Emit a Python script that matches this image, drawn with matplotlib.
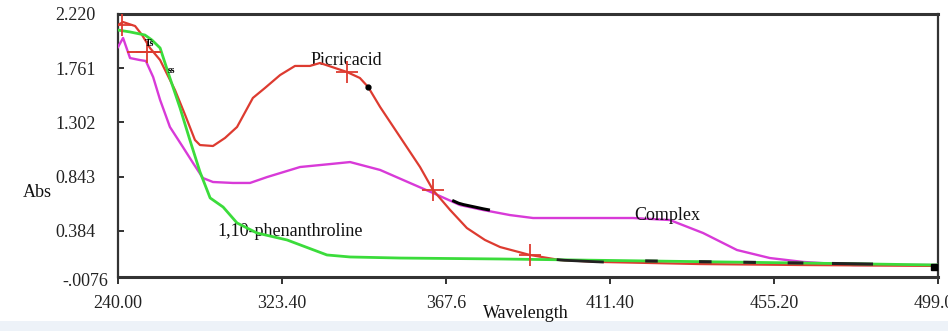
import matplotlib
matplotlib.use("Agg")
import matplotlib.pyplot as plt
import numpy as np
from matplotlib.patches import Rectangle
from matplotlib.transforms import ScaledTranslation

# ---- data (wavelength, absorbance) ----
picric_wl = [240.0, 241.6, 245.4, 247.6, 250.1, 253.3, 258.0, 261.2, 264.3, 265.9, 270.0,
             273.8, 277.6, 282.6, 286.4, 291.2, 295.9, 300.6, 303.8, 308.5, 312.3, 316.4,
             319.0, 322.8, 329.1, 335.4, 339.5, 344.9, 350.2, 355.9, 360.7, 370.1, 379.6,
             392.2, 423.8, 455.4, 499.0]
picric_abs = [2.127, 2.152, 2.118, 2.042, 1.932, 1.830, 1.576, 1.365, 1.153, 1.110, 1.102,
              1.170, 1.263, 1.509, 1.593, 1.703, 1.780, 1.780, 1.805, 1.763, 1.729, 1.678,
              1.602, 1.432, 1.178, 0.924, 0.729, 0.560, 0.407, 0.306, 0.246, 0.179, 0.136,
              0.120, 0.102, 0.094, 0.086]

phen_wl = [240.0, 243.8, 248.5, 250.7, 253.3, 256.4, 259.6, 262.7, 265.9, 269.1, 273.2,
           277.6, 283.9, 293.4, 306.0, 313.3, 329.1, 360.7, 408.0, 455.4, 499.0]
phen_abs = [2.084, 2.068, 2.042, 2.000, 1.932, 1.678, 1.424, 1.153, 0.882, 0.662, 0.585,
            0.450, 0.365, 0.306, 0.179, 0.162, 0.153, 0.145, 0.128, 0.111, 0.094]

complex_wl = [240.0, 241.6, 243.8, 246.9, 248.8, 251.1, 253.3, 256.4, 260.5, 263.7, 266.8,
              270.0, 276.3, 281.7, 287.1, 297.5, 307.0, 313.3, 322.8, 332.2, 339.5, 348.0,
              355.3, 363.8, 371.1, 385.9, 402.7, 414.3, 424.8, 435.5, 445.9, 456.4, 472.2,
              499.0]
complex_abs = [1.940, 2.017, 1.847, 1.830, 1.822, 1.686, 1.492, 1.263, 1.093, 0.958, 0.831,
               0.797, 0.789, 0.789, 0.839, 0.924, 0.949, 0.966, 0.899, 0.789, 0.704, 0.602,
               0.560, 0.517, 0.492, 0.492, 0.492, 0.475, 0.365, 0.221, 0.153, 0.120, 0.094,
               0.094]

# cursor (+) markers on the picric acid trace
cursor_wl = [241.4, 249.3, 312.3, 339.5, 370.1]
cursor_abs = [2.127, 1.895, 1.729, 0.729, 0.179]

xtick_labels = ["240.00", "323.40", "367.6", "411.40", "455.20", "499.00"]
ytick_values = [-0.0076, 0.384, 0.843, 1.302, 1.761, 2.220]
ytick_labels = ["-.0076", "0.384", "0.843", "1.302", "1.761", "2.220"]

RED = "#dd3b30"
GREEN = "#3bdc3b"
MAGENTA = "#d83ad8"
FONT = ["Liberation Serif", "DejaVu Serif"]
FS = 13

plt.rcParams["font.family"] = FONT

fig = plt.figure(figsize=(9.48, 3.31), dpi=100)
fig.patch.set_facecolor("white")
fig.add_artist(Rectangle((0, 0), 1, 10 / 331, transform=fig.transFigure,
                         facecolor="#edf2f8", edgecolor="none", zorder=0))

ax = fig.add_axes([118 / 948, (331 - 277) / 331, (938 - 118) / 948, (277 - 14) / 331])
ax.set_xlim(240, 499)
ax.set_ylim(-0.0076, 2.220)

ax.plot(complex_wl, complex_abs, color=MAGENTA, lw=1.7, zorder=3)
ax.plot(picric_wl, picric_abs, color=RED, lw=1.6, zorder=4)
ax.plot(phen_wl, phen_abs, color=GREEN, lw=2.0, zorder=5)

# black overlay fragments along traces
cw = np.array(complex_wl); ca = np.array(complex_abs)
xs = np.linspace(346, 357, 8)
ax.plot(xs, np.interp(xs, cw, ca) + 0.01, color="black", lw=2.2, zorder=6)
pw = np.array(picric_wl); pa = np.array(picric_abs)
xs = np.linspace(379, 393, 8)
ax.plot(xs, np.interp(xs, pw, pa), color="#222222", lw=2.0, zorder=6)
ax.plot([319.0], [1.602], marker="o", color="black", markersize=3.5, zorder=6)
gw = np.array(phen_wl); ga = np.array(phen_abs)
for lo, hi in [(407, 410), (424, 427), (438, 441), (452, 456), (466, 478)]:
    xs = np.linspace(lo, hi, 5)
    ax.plot(xs, np.interp(xs, gw, ga), color="#222222", lw=2.2, zorder=6)
ax.plot([497.8], [0.075], marker="s", color="black", markersize=5, zorder=6)

ax.plot(cursor_wl, cursor_abs, linestyle="none", marker="+", color=RED,
        markersize=16, markeredgewidth=1.3, zorder=7)
ax.plot([243.2, 253.3], [1.895, 1.895], color=RED, lw=1.4, zorder=7)

ax.text(248.6, 1.95, "Ts", fontsize=7, fontweight="bold", color="black", zorder=8)
ax.text(255.6, 1.72, "ss", fontsize=7, fontweight="bold", color="black", zorder=8)

ax.text(312, 1.83, "Picricacid", fontsize=FS, ha="center", va="center", color="#111111")
ax.text(271.3, 0.374, "1,10-phenanthroline", fontsize=FS, ha="left", va="center",
        color="#111111")
ax.text(403, 0.517, "Complex", fontsize=FS, ha="left", va="center", color="#111111")

ax.set_xticks(np.linspace(240, 499, len(xtick_labels)))
ax.set_xticklabels(xtick_labels)
ax.set_yticks(ytick_values)
ax.set_yticklabels([""] + ytick_labels[1:])
ax.tick_params(axis="x", direction="out", length=5, width=1.3, pad=8, labelsize=FS,
               colors="#222222")
ax.tick_params(axis="y", direction="in", length=4, width=1.3, pad=16, labelsize=FS,
               colors="#222222")
# lowest y label sits slightly right of / below its tick in the reference
ax.text(0, ytick_values[0], ytick_labels[0], fontsize=FS, color="#222222", ha="right",
        va="center",
        transform=ax.get_yaxis_transform() + ScaledTranslation(-10 / 100, -5 / 100,
                                                               fig.dpi_scale_trans),
        clip_on=False)

for s in ax.spines.values():
    s.set_color("#333333")
    s.set_linewidth(1.6)
ax.spines["top"].set_linewidth(2.2)
ax.spines["bottom"].set_linewidth(2.2)

fig.text(37 / 948, 1 - 192 / 331, "Abs", fontsize=FS, ha="center", va="center",
         color="#111111")
fig.text(526 / 948, 1 - 313 / 331, "Wavelength", fontsize=FS, ha="center", va="center",
         color="#111111")

fig.savefig("out.png", dpi=100, facecolor=fig.get_facecolor())
